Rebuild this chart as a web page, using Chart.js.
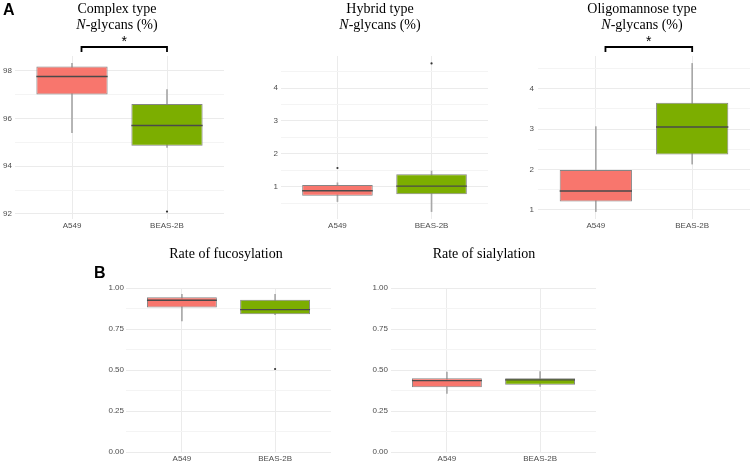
<!DOCTYPE html>
<html>
<head>
<meta charset="utf-8">
<script src="https://cdn.jsdelivr.net/npm/chart.js@4.4.1/dist/chart.umd.min.js"></script>
<style>
    body { margin: 0; background: #fff; }
    #wrap { position: relative; width: 754px; height: 463px; overflow: hidden; }
    canvas { position: absolute; }
    .title {
        position: absolute;
        width: 220px;
        text-align: center;
        font-family: "Liberation Serif", "Times New Roman", serif;
        font-size: 14px;
        line-height: 16px;
        color: #000;
    }
    .tag {
        position: absolute;
        font-family: "Liberation Sans", Arial, sans-serif;
        font-weight: bold;
        font-size: 16px;
        line-height: 16px;
    }
</style>
</head>
<body>
<div id="wrap">
    <canvas id="c1" width="230" height="232" style="left:0;top:0"></canvas>
    <canvas id="c2" width="245" height="232" style="left:250px;top:0"></canvas>
    <canvas id="c3" width="254" height="232" style="left:500px;top:0"></canvas>
    <canvas id="c4" width="250" height="223" style="left:90px;top:240px"></canvas>
    <canvas id="c5" width="250" height="223" style="left:360px;top:240px"></canvas>

    <div class="tag" style="left:3px;top:2px">A</div>
    <div class="tag" style="left:94px;top:265px">B</div>
    <div class="title" style="left:7px;top:1px">Complex type<br><i>N</i>-glycans (%)</div>
    <div class="title" style="left:270px;top:1px">Hybrid type<br><i>N</i>-glycans (%)</div>
    <div class="title" style="left:532px;top:1px">Oligomannose type<br><i>N</i>-glycans (%)</div>
    <div class="title" style="left:116px;top:246px">Rate of fucosylation</div>
    <div class="title" style="left:374px;top:246px">Rate of sialylation</div>
</div>

<script>
"use strict";

const groups = ["A549", "BEAS-2B"];
const boxColors = ["#F8766D", "#7CAE00"];

// each box: [lower whisker, q1, median, q3, upper whisker]
const complexBoxes = [[95.4, 97.0, 97.75, 98.17, 98.3], [94.78, 94.85, 95.7, 96.6, 97.2]];
const complexOutliers = [[], [92.1]];
const complexTicks = [92, 94, 96, 98];

const hybridBoxes = [[0.55, 0.73, 0.88, 1.05, 1.12], [0.245, 0.77, 1.02, 1.38, 1.48]];
const hybridOutliers = [[1.57], [4.75]];
const hybridTicks = [1, 2, 3, 4];

const oligoBoxes = [[0.95, 1.2, 1.46, 1.98, 3.06], [2.13, 2.37, 3.05, 3.65, 4.63]];
const oligoOutliers = [[], []];
const oligoTicks = [1, 2, 3, 4];

const fucoBoxes = [[0.8, 0.881, 0.925, 0.943, 0.962], [0.838, 0.84, 0.868, 0.929, 0.962]];
const fucoOutliers = [[], [0.506]];

const sialBoxes = [[0.357, 0.395, 0.435, 0.45, 0.487], [0.4, 0.41, 0.44, 0.45, 0.49]];
const sialOutliers = [[], []];

const rateTicks = [0, 0.25, 0.5, 0.75, 1];

// significance brackets: [from, to, label]
const complexSig = [1.1, 2.0, "*"];
const oligoSig = [1.1, 2.0, "*"];

Chart.defaults.font.family = '"Liberation Sans", Arial, sans-serif';
Chart.defaults.color = "#4d4d4d";

const boxExtras = {
    id: "boxExtras",
    afterDatasetsDraw(chart, args, opts) {
        const ctx = chart.ctx;
        const y = chart.scales.y;
        const x = chart.scales.x;
        chart.data.datasets.forEach((ds, di) => {
            if (!ds.medians) return;
            chart.getDatasetMeta(di).data.forEach((bar, i) => {
                const py = y.getPixelForValue(ds.medians[i]);
                ctx.save();
                ctx.strokeStyle = "#4a4a4a";
                ctx.lineWidth = 1.4;
                ctx.beginPath();
                ctx.moveTo(bar.x - bar.width / 2, py);
                ctx.lineTo(bar.x + bar.width / 2, py);
                ctx.stroke();
                ctx.restore();
            });
        });
        if (opts && opts.sig) {
            const x1 = x.getPixelForValue(opts.sig[0]);
            const x2 = x.getPixelForValue(opts.sig[1]);
            const yb = chart.chartArea.top - 9;
            ctx.save();
            ctx.strokeStyle = "#000";
            ctx.lineWidth = 1.8;
            ctx.beginPath();
            ctx.moveTo(x1, yb + 5);
            ctx.lineTo(x1, yb);
            ctx.lineTo(x2, yb);
            ctx.lineTo(x2, yb + 5);
            ctx.stroke();
            ctx.fillStyle = "#000";
            ctx.font = '14px "Liberation Sans", Arial, sans-serif';
            ctx.textAlign = "center";
            ctx.textBaseline = "alphabetic";
            ctx.fillText(opts.sig[2], (x1 + x2) / 2, yb - 1);
            ctx.restore();
        }
    }
};

function makePanel(id, boxes, outliers, ticks, layout) {
    let yMin = layout.yMin, yMax = layout.yMax;
    if (yMin === undefined) {
        const all = boxes.flat().concat(outliers.flat());
        const lo = Math.min(...all), hi = Math.max(...all);
        yMin = lo - (hi - lo) * 0.05;
        yMax = hi + (hi - lo) * 0.05;
    }
    const step = ticks[1] - ticks[0];
    const minor = [ticks[0] - step / 2].concat(ticks.map(t => t + step / 2))
        .filter(v => v >= yMin && v <= yMax);
    const allTicks = ticks.concat(minor).sort((a, b) => a - b);
    const isMajor = v => ticks.some(t => Math.abs(t - v) < 1e-9);

    const outlierPts = [];
    outliers.forEach((list, i) => list.forEach(v => outlierPts.push({x: i + 1, y: v})));

    new Chart(document.getElementById(id), {
        type: "bar",
        data: {
            datasets: [{
                type: "bar",
                data: boxes.map((b, i) => ({x: i + 1, y: [b[0], b[4]]})),
                backgroundColor: "#a8a8a8",
                barThickness: 1,
                grouped: false,
                order: 3
            }, {
                type: "bar",
                data: boxes.map((b, i) => ({x: i + 1, y: [b[1], b[3]]})),
                medians: boxes.map(b => b[2]),
                backgroundColor: boxColors,
                borderColor: "#858585",
                borderWidth: 1,
                borderSkipped: false,
                barPercentage: 0.75,
                categoryPercentage: 1,
                grouped: false,
                order: 2
            }, {
                type: "scatter",
                data: outlierPts,
                pointRadius: 1.1,
                pointBackgroundColor: "#333",
                pointBorderWidth: 0,
                order: 1
            }]
        },
        options: {
            responsive: false,
            animation: false,
            events: [],
            layout: {padding: {top: layout.top, right: layout.right, left: 0, bottom: 0}},
            plugins: {
                legend: {display: false},
                tooltip: {enabled: false},
                boxExtras: {sig: layout.sig}
            },
            scales: {
                x: {
                    type: "linear",
                    min: 0.4,
                    max: 2.6,
                    offset: false,
                    afterBuildTicks: s => { s.ticks = groups.map((g, i) => ({value: i + 1})); },
                    afterFit: s => { s.height = layout.xh; },
                    ticks: {
                        autoSkip: false,
                        maxRotation: 0,
                        padding: 2,
                        font: {size: 8},
                        color: "#4d4d4d",
                        callback: v => groups[v - 1]
                    },
                    grid: {color: "#ebebeb", lineWidth: 1, drawTicks: false, offset: false},
                    border: {display: false}
                },
                y: {
                    min: yMin,
                    max: yMax,
                    afterBuildTicks: s => { s.ticks = allTicks.map(v => ({value: v})); },
                    afterFit: s => { s.width = layout.yw; },
                    ticks: {
                        autoSkip: false,
                        padding: layout.pad,
                        font: {size: 8},
                        color: "#4d4d4d",
                        callback: v => isMajor(v) ? v.toFixed(layout.dec) : ""
                    },
                    grid: {
                        color: c => isMajor(c.tick.value) ? "#ebebeb" : "#f4f4f4",
                        lineWidth: 1,
                        drawTicks: false
                    },
                    border: {display: false}
                }
            }
        },
        plugins: [boxExtras]
    });
}

makePanel("c1", complexBoxes, complexOutliers, complexTicks,
    {top: 56, right: 6, xh: 13, yw: 15, pad: 3, dec: 0, sig: complexSig});
makePanel("c2", hybridBoxes, hybridOutliers, hybridTicks,
    {top: 56, right: 7, xh: 13, yw: 31, pad: 3, dec: 0});
makePanel("c3", oligoBoxes, oligoOutliers, oligoTicks,
    {top: 56, right: 4, xh: 13, yw: 38, pad: 4, dec: 0, sig: oligoSig});
makePanel("c4", fucoBoxes, fucoOutliers, rateTicks,
    {top: 48, right: 9, xh: 11, yw: 36, pad: 2, dec: 2, yMin: 0, yMax: 1});
makePanel("c5", sialBoxes, sialOutliers, rateTicks,
    {top: 48, right: 14, xh: 11, yw: 31, pad: 3, dec: 2, yMin: 0, yMax: 1});
</script>
</body>
</html>
